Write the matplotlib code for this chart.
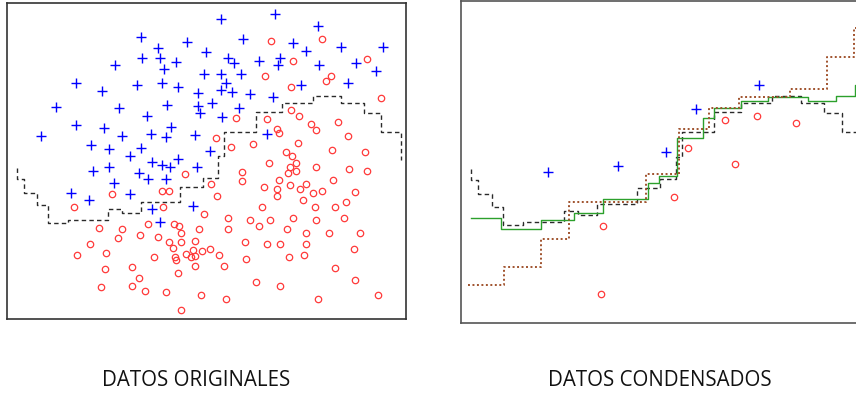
import numpy as np
import matplotlib
matplotlib.use("Agg")
import matplotlib.pyplot as plt

# ---- original training set (two classes) ----
blue_x = [221, 275, 318, 141, 187, 158, 243, 293, 306, 341,
          383, 206, 142, 160, 176, 228, 234, 259, 280, 278,
          319, 356, 376, 115, 164, 204, 221, 241, 76, 102,
          137, 162, 178, 198, 226, 221, 232, 250, 301, 348,
          273, 56, 119, 167, 198, 212, 239, 200, 147, 222,
          76, 104, 171, 41, 122, 151, 166, 195, 267, 91,
          109, 141, 210, 130, 178, 152, 162, 170, 197, 93,
          109, 139, 148, 166, 114, 71, 89, 130, 152, 160, 193]
blue_y = [19, 14, 26, 37, 42, 48, 39, 43, 51, 47,
          47, 52, 58, 58, 62, 58, 63, 61, 58, 65,
          65, 63, 71, 65, 69, 74, 74, 74, 83, 91,
          85, 83, 87, 93, 83, 90, 92, 94, 85, 83,
          97, 107, 108, 105, 106, 103, 108, 113, 116, 117,
          125, 128, 127, 136, 136, 134, 137, 135, 134, 145,
          149, 148, 151, 156, 159, 162, 165, 167, 167, 171,
          167, 173, 179, 179, 183, 193, 200, 194, 209, 222, 206]

red_x = [271, 322, 293, 367, 265, 331, 326, 291, 381, 236,
         267, 291, 299, 311, 316, 338, 277, 279, 348, 216,
         231, 253, 298, 332, 365, 286, 292, 269, 296,
         290, 316, 349, 367, 288, 296, 185, 242, 242, 211,
         279, 333, 264, 277, 290, 306, 300, 313, 322, 355,
         112, 162, 169, 217, 277, 303, 346, 74, 163, 262,
         315, 335, 204, 228, 293, 344, 250, 270, 316, 148,
         174, 179, 259, 99, 122, 199, 228, 287, 306, 329,
         360, 181, 140, 158, 118, 90, 169, 181, 195, 245,
         267, 280, 306, 173, 193, 202, 210, 354, 77, 106,
         154, 175, 186, 191, 195, 219, 304, 176, 246, 289,
         105, 132, 195, 224, 335, 178, 139, 256, 355, 101,
         132, 280, 145, 166, 201, 226, 318, 378, 181]
red_y = [41, 39, 61, 59, 76, 76, 81, 87, 98, 118,
         119, 110, 116, 124, 130, 122, 129, 133, 136, 138,
         147, 144, 143, 150, 152, 152, 156, 163, 163,
         167, 167, 169, 171, 173, 171, 174, 172, 181, 184,
         180, 180, 187, 189, 185, 184, 189, 193, 191, 192,
         194, 191, 191, 196, 196, 200, 202, 207, 207, 207,
         207, 207, 214, 218, 218, 218, 220, 220, 220, 224,
         224, 226, 226, 228, 229, 229, 229, 229, 233, 233,
         233, 233, 235, 237, 238, 244, 242, 242, 241, 242,
         244, 244, 244, 248, 250, 251, 249, 249, 255, 253,
         257, 257, 254, 257, 256, 255, 255, 260, 259, 257,
         269, 267, 266, 266, 268, 273, 278, 282, 280, 287,
         286, 286, 291, 292, 295, 299, 299, 295, 310]

# ---- condensed set ----
cond_blue_x = [92.5, 161.3, 208.5, 238.0, 300.0]
cond_blue_y = [171.0, 165.0, 151.3, 109.0, 85.5]
cond_red_x = [146.6, 144.6, 216.4, 230.1, 266.5, 276.3, 298.0, 336.3]
cond_red_y = [224.0, 290.7, 195.5, 147.4, 119.9, 163.0, 116.0, 122.8]

# ---- decision boundaries (staircases: x edges, level between edges) ----
orig_edges = [17, 24, 37, 48, 68, 108, 122, 141, 180, 203, 218, 224,
              256, 282, 313, 341, 364, 381, 401]
orig_levels = [179, 193, 205, 223, 220, 209, 213, 202, 187, 178, 156,
               132, 112, 103, 96, 103, 113, 132]
orig_start, orig_end = 168, 160

green_edges = [16.8, 46.3, 85.6, 118.1, 146.6, 191.1, 201.6, 219.3, 244.9,
               255.7, 282.2, 308.8, 348.1, 375.6, 394.3, 406]
green_levels = [216.1, 226.9, 218.1, 211.2, 197.4, 181.7, 174.9, 137.5,
                117.9, 108.1, 101.2, 97.3, 101.2, 96.3, 85.5]

brown_edges = [13.9, 49.3, 85.6, 113.2, 188.9, 221.3, 250.8, 280.3, 330.4,
               366.8, 393.3, 406]
brown_levels = [281.9, 264.2, 236.7, 200.4, 172.9, 128.7, 108.1, 97.3,
                89.4, 58.0, 29.5]

titles = ["DATOS ORIGINALES", "DATOS CONDENSADOS"]

XLIM = (7, 406)
YLIM = (319, 3)


def staircase(edges, levels, start=None, end=None):
    xs, ys = [], []
    if start is not None:
        xs.append(edges[0]); ys.append(start)
    for i, lv in enumerate(levels):
        xs += [edges[i], edges[i + 1]]
        ys += [lv, lv]
    if end is not None:
        xs.append(edges[-1]); ys.append(end)
    return np.array(xs), np.array(ys)


W, H = 856, 394
fig = plt.figure(figsize=(W / 100, H / 100), dpi=100)

ax1 = fig.add_axes([7 / W, 1 - 319 / H, (406 - 7) / W, (319 - 3) / H])
ax2 = fig.add_axes([461 / W, 1 - 322.7 / H, (867 - 461) / W, (322.7 - 1) / H])

plus_kw = dict(marker="+", linestyle="none", color="#0000ff",
               markersize=7.5, markeredgewidth=1.0)
circ_kw = dict(marker="o", linestyle="none", markerfacecolor="none",
               markeredgecolor="#ff3a3a", markersize=4.6, markeredgewidth=0.9)
dash_kw = dict(color="#2a2a2a", linewidth=1.0, linestyle=(0, (3.2, 2.3)))

bx, by = staircase(orig_edges, orig_levels, orig_start, orig_end)

# left: all data + boundary
ax1.plot(bx, by, **dash_kw)
ax1.plot(blue_x, blue_y, **plus_kw)
ax1.plot(red_x, red_y, **circ_kw)

# right: condensed data + three boundaries
ax2.plot(bx, by, **dash_kw)
gx, gy = staircase(green_edges, green_levels)
ax2.plot(gx, gy, color="#2ca02c", linewidth=1.0)
brx, bry = staircase(brown_edges, brown_levels)
ax2.plot(brx, bry, color="#a0522d", linewidth=1.4, linestyle=(0, (1, 1.3)))
ax2.plot(cond_blue_x, cond_blue_y, **plus_kw)
ax2.plot(cond_red_x, cond_red_y, **circ_kw)

for ax, ec in ((ax1, "#333333"), (ax2, "#555555")):
    ax.set_xlim(*XLIM)
    ax.set_ylim(*YLIM)
    ax.set_xticks([])
    ax.set_yticks([])
    for sp in ax.spines.values():
        sp.set_color(ec)
        sp.set_linewidth(1.2)

fig.text(196 / W, 1 - 381 / H, titles[0], ha="center", va="center",
         fontsize=14.8, family="Open Sans", color="#111111")
fig.text(660 / W, 1 - 381 / H, titles[1], ha="center", va="center",
         fontsize=14.8, family="Open Sans", color="#111111")

fig.savefig("out.png", dpi=100)
